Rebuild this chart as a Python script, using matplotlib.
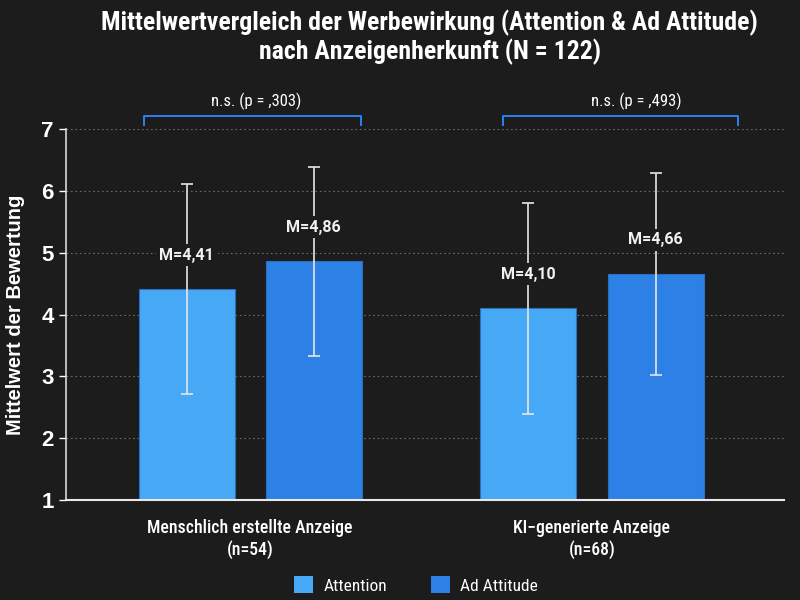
import numpy as np
import matplotlib
matplotlib.use("Agg")
from matplotlib import pyplot as plt
from matplotlib.patches import Patch

# --- data ---
groups = ["Menschlich erstellte Anzeige\n(n=54)", "KI\u2212generierte Anzeige\n(n=68)"]
series = ["Attention", "Ad Attitude"]
attention_mean = [4.41, 4.10]
attitude_mean = [4.86, 4.66]
attention_sd = [1.70, 1.71]
attitude_sd = [1.53, 1.63]
p_labels = ["n.s. (p = ,303)", "n.s. (p = ,493)"]

BG = "#1c1c1c"
C_ATT = "#47a9f5"
C_AD = "#2d81e6"
C_BRACKET = "#2d7ff0"
NARROW = ["Roboto Condensed", "DejaVu Sans"]
ARIAL = ["Liberation Sans", "DejaVu Sans"]

# bracket layout (relative to group centre, in x data units)
bracket_lo = [-0.312, -0.261]
bracket_hi = [0.324, 0.428]
label_dx = [0.016, 0.129]

plt.rcParams.update({
    "font.family": ARIAL,
    "text.color": "white",
    "axes.labelcolor": "white",
    "xtick.color": "white",
    "ytick.color": "white",
})

fig = plt.figure(figsize=(8, 6), dpi=100, facecolor=BG)
ax = fig.add_axes([0.083, 0.1667, 0.897, 0.618], facecolor=BG)

x = np.arange(len(groups))
w = 0.281
off = 0.186

means = [attention_mean, attitude_mean]
sds = [attention_sd, attitude_sd]
colors = [C_ATT, C_AD]
for j in range(2):
    xs = x + (2 * j - 1) * off
    ax.bar(xs, np.array(means[j]) - 1, bottom=1, width=w, color=colors[j],
           edgecolor="#2a6fc0", linewidth=0.8, zorder=2)
    ax.errorbar(xs, means[j], yerr=sds[j], fmt="none", ecolor="#e6e6e6",
                elinewidth=1.2, capsize=4.5, capthick=1.2, zorder=3)
    for xi, m in zip(xs, means[j]):
        ax.text(xi, m + 0.55, f"M={m:.2f}".replace(".", ","), ha="center",
                va="center", fontsize=11.5, fontweight="bold", family=["Roboto", "DejaVu Sans"],
                color="#f2f2f2", zorder=4,
                bbox=dict(facecolor=BG, edgecolor="none", pad=2.5))

# significance brackets above the plot
for i, lab in enumerate(p_labels):
    x0, x1 = x[i] + bracket_lo[i], x[i] + bracket_hi[i]
    ax.plot([x0, x0, x1, x1], [7.06, 7.22, 7.22, 7.06], color=C_BRACKET,
            lw=1.4, clip_on=False, zorder=5)
    ax.text(x[i] + label_dx[i], 7.45, lab, ha="center", va="center",
            fontsize=12, family=NARROW, color="white")

ax.set_xlim(-0.538, 1.562)
ax.set_ylim(1, 7)
ax.set_yticks(range(1, 8))
ax.tick_params(axis="y", labelsize=16, length=5, width=1, pad=4)
for t in ax.get_yticklabels():
    t.set_fontweight("bold")
ax.set_xticks(x)
ax.set_xticklabels(groups, fontsize=12.8, family=NARROW, fontweight="medium")
ax.tick_params(axis="x", length=0, pad=14)
ax.grid(axis="y", linestyle=(0, (1.5, 2.5)), color="#6a6a6a", linewidth=0.8, zorder=0)
ax.set_axisbelow(True)

for s in ["top", "right"]:
    ax.spines[s].set_visible(False)
ax.spines["left"].set_color("#d8d8d8")
ax.spines["bottom"].set_color("#e8e8e8")
ax.spines["left"].set_linewidth(1.2)
ax.spines["bottom"].set_linewidth(1.5)

ax.set_ylabel("Mittelwert der Bewertung", fontsize=14.5, fontweight="bold", labelpad=12)

fig.text(0.537, 0.938, "Mittelwertvergleich der Werbewirkung (Attention & Ad Attitude)\nnach Anzeigenherkunft (N = 122)",
         ha="center", va="center", fontsize=18.5, fontweight="bold", family=NARROW,
         color="white", linespacing=1.1)

handles = [Patch(facecolor=c, label=s) for c, s in zip(colors, series)]
fig.legend(handles=handles, loc="center", bbox_to_anchor=(0.52, 0.025), ncol=2,
           frameon=False, prop={"family": NARROW, "size": 12.5},
           handlelength=1.1, handleheight=1.1, columnspacing=2.5, handletextpad=0.6)

fig.savefig("out.png", dpi=100, facecolor=BG)
